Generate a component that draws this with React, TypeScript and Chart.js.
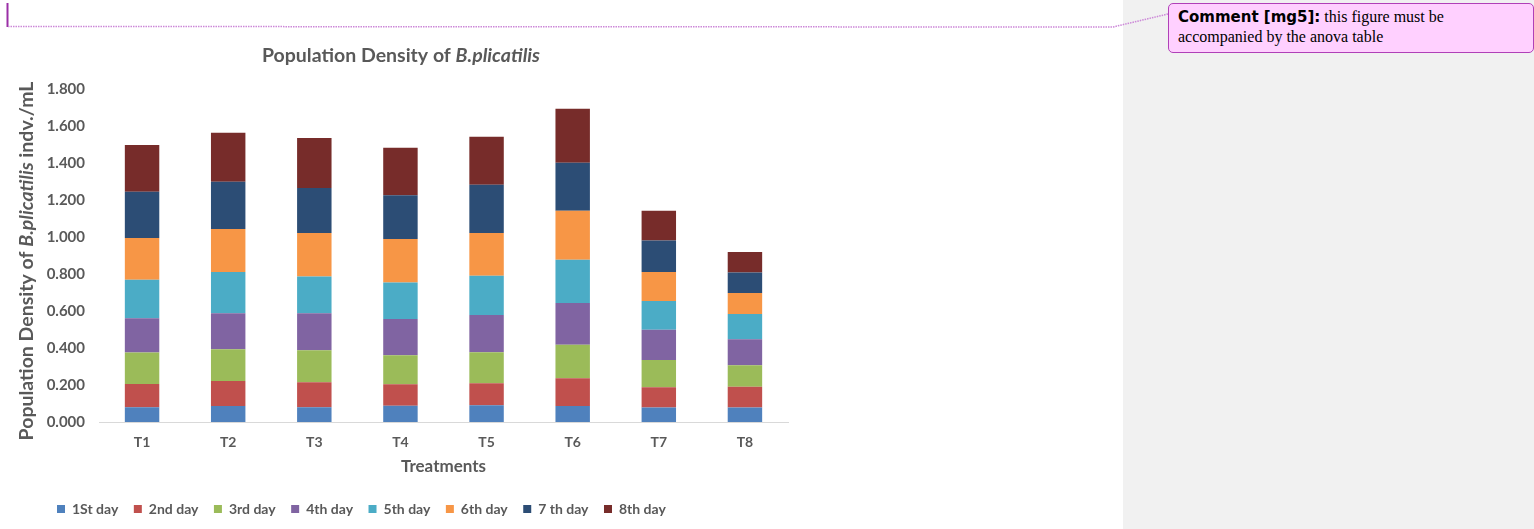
import React, { useEffect, useRef } from "react";
import { Chart, registerables } from "chart.js";

Chart.register(...registerables);

const categories = ["T1", "T2", "T3", "T4", "T5", "T6", "T7", "T8"];
const seriesNames = ["1St day", "2nd day", "3rd day", "4th day", "5th day", "6th day", "7 th day", "8th day"];
const day1 = [0.080, 0.087, 0.080, 0.088, 0.091, 0.087, 0.078, 0.078];
const day2 = [0.126, 0.135, 0.135, 0.116, 0.119, 0.150, 0.110, 0.113];
const day3 = [0.170, 0.172, 0.174, 0.158, 0.168, 0.181, 0.148, 0.116];
const day4 = [0.186, 0.195, 0.200, 0.195, 0.201, 0.226, 0.163, 0.141];
const day5 = [0.208, 0.223, 0.199, 0.198, 0.213, 0.235, 0.156, 0.136];
const day6 = [0.226, 0.233, 0.235, 0.236, 0.231, 0.265, 0.157, 0.114];
const day7 = [0.251, 0.255, 0.244, 0.236, 0.262, 0.259, 0.170, 0.112];
const day8 = [0.253, 0.266, 0.271, 0.257, 0.259, 0.293, 0.162, 0.110];
const seriesColors = ["#4f81bd", "#c0504d", "#9bbb59", "#8064a2", "#4bacc6", "#f79646", "#2c4d75", "#772c2a"];
const yTicks = [0, 0.2, 0.4, 0.6, 0.8, 1.0, 1.2, 1.4, 1.6, 1.8];

const chartTitle = [
  { text: "Population Density of ", italic: false },
  { text: "B.plicatilis", italic: true },
];
const yTitle = [
  { text: "Population Density of ", italic: false },
  { text: "B.plicatilis", italic: true },
  { text: " indv./mL", italic: false },
];
const xTitle = "Treatments";

const TEXT = "#595959";
const FONT = "Lato, 'Open Sans', sans-serif";

function drawMixed(ctx: CanvasRenderingContext2D, parts: { text: string; italic: boolean }[], cx: number, cy: number, size: number, weight: string) {
  const fontFor = (it: boolean) => `${it ? "italic " : ""}${weight} ${size}px ${FONT}`;
  let total = 0;
  const widths = parts.map((p) => {
    ctx.font = fontFor(p.italic);
    const w = ctx.measureText(p.text).width;
    total += w;
    return w;
  });
  let x = cx - total / 2;
  ctx.textBaseline = "middle";
  ctx.textAlign = "left";
  parts.forEach((p, i) => {
    ctx.font = fontFor(p.italic);
    ctx.fillText(p.text, x, cy);
    x += widths[i];
  });
}

const textPlugin = {
  id: "customText",
  afterDraw(chart: any) {
    const ctx = chart.ctx as CanvasRenderingContext2D;
    const area = chart.chartArea;
    ctx.save();
    ctx.fillStyle = TEXT;
    drawMixed(ctx, chartTitle, 401, 56, 19.5, "bold");
    ctx.font = `bold 17px ${FONT}`;
    ctx.textAlign = "center";
    ctx.textBaseline = "middle";
    ctx.fillText(xTitle, (area.left + area.right) / 2, 467);
    ctx.translate(27, 261);
    ctx.rotate(-Math.PI / 2);
    drawMixed(ctx, yTitle, 0, 0, 19.5, "bold");
    ctx.restore();
  },
};

export default function App() {
  const ref = useRef<HTMLCanvasElement>(null);
  useEffect(() => {
    const data = [day1, day2, day3, day4, day5, day6, day7, day8];
    const chart = new Chart(ref.current!, {
      type: "bar",
      data: {
        labels: categories,
        datasets: data.map((d, i) => ({
          label: seriesNames[i],
          data: d,
          backgroundColor: seriesColors[i],
          borderWidth: 0,
          barPercentage: 0.4,
          categoryPercentage: 1,
        })),
      },
      options: {
        responsive: false,
        devicePixelRatio: 1,
        animation: false,
        layout: { padding: { left: 41.5, top: 89.5, right: 12, bottom: 3 } },
        plugins: {
          title: { display: false },
          tooltip: { enabled: false },
          legend: {
            display: true,
            position: "bottom",
            align: "start",
            labels: {
              boxWidth: 8,
              boxHeight: 8,
              padding: 15.5,
              color: TEXT,
              font: { family: FONT, size: 14, weight: "bold" },
            },
          },
        },
        scales: {
          x: {
            stacked: true,
            grid: { display: false, drawTicks: false },
            border: { display: true, color: "#d9d9d9", width: 1 },
            ticks: { color: TEXT, padding: 12, font: { family: FONT, size: 14, weight: "bold" } },
            afterFit: (scale: any) => {
              scale.height = 64.5;
            },
          },
          y: {
            stacked: true,
            min: 0,
            max: 1.8,
            grid: { display: false, drawTicks: false },
            border: { display: false },
            afterBuildTicks: (scale: any) => {
              scale.ticks = yTicks.map((v) => ({ value: v }));
            },
            ticks: {
              color: TEXT,
              padding: 14,
              font: { family: FONT, size: 15, weight: "bold" },
              callback: (v: any) => Number(v).toFixed(3),
            },
            afterFit: (scale: any) => {
              scale.width = 57.5;
            },
          },
        },
      },
      plugins: [textPlugin],
    });
    return () => chart.destroy();
  }, []);

  return (
    <div style={{ position: "absolute", left: 0, top: 0, width: 1534, height: 529, background: "#fff", overflow: "hidden" }}>
      <div style={{ position: "absolute", left: 1123, top: 0, width: 411, height: 529, background: "#f1f1f1" }} />
      <canvas ref={ref} width={800} height={529} style={{ position: "absolute", left: 0, top: 0 }} />
      <svg width={1534} height={529} style={{ position: "absolute", left: 0, top: 0, pointerEvents: "none" }}>
        <line x1={7.5} y1={3} x2={7.5} y2={27} stroke="#9a2fa6" strokeWidth={2} />
        <polyline points="8,26.5 1113,27 1168,14" fill="none" stroke="#cc88d8" strokeWidth={1.5} strokeDasharray="1.5 1" />
      </svg>
      <div
        style={{
          position: "absolute",
          left: 1168,
          top: 3,
          width: 355,
          height: 44,
          padding: "3px 0 1px 9px",
          background: "#ffd0ff",
          border: "1px solid #b040b8",
          borderRadius: 5,
          fontFamily: "'Liberation Serif', 'Times New Roman', serif",
          fontSize: 16,
          lineHeight: "19px",
          color: "#000",
          whiteSpace: "nowrap",
        }}
      >
        <span style={{ fontFamily: "'DejaVu Sans', Verdana, sans-serif", fontWeight: "bold", fontSize: 15 }}>Comment [mg5]:</span> this figure must be
        <br />
        accompanied by the anova table
      </div>
    </div>
  );
}
